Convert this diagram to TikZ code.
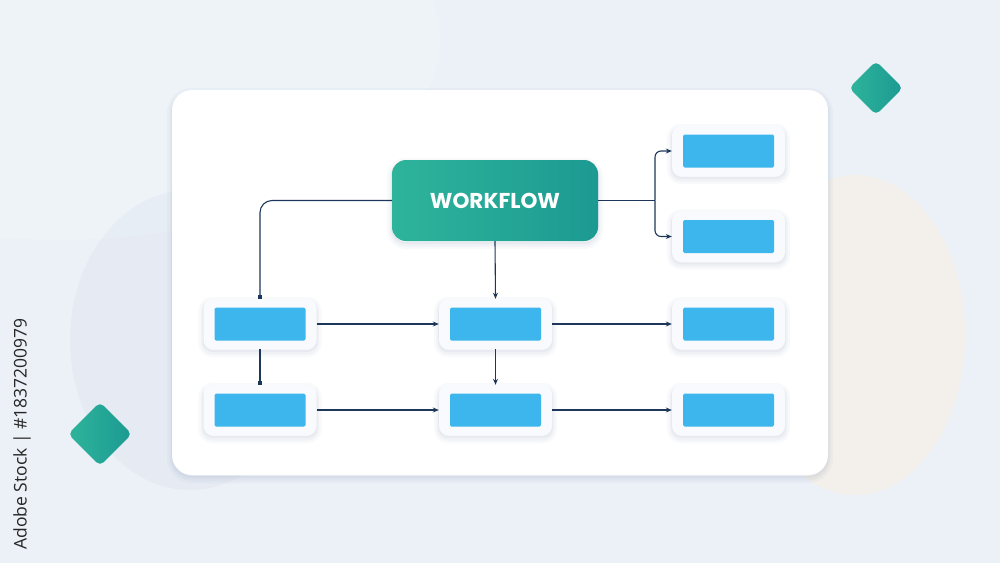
\documentclass[tikz,border=0pt]{standalone}
\usepackage{fontspec}
\newfontfamily\titlefont{Poppins}
\newfontfamily\markfont{Open Sans}
\usepackage{xcolor}
\definecolor{Col1}{RGB}{46,180,155}
\definecolor{Col2}{RGB}{28,154,146}
\definecolor{Col3}{RGB}{60,182,236}
\definecolor{Col4}{RGB}{28,55,90}
\definecolor{Col5}{RGB}{236,241,247}
\definecolor{Col6}{RGB}{248,250,253}
\definecolor{Col7}{RGB}{120,140,175}
\definecolor{Col8}{RGB}{252,238,220}
\usepackage{tikz}
\usetikzlibrary{arrows.meta}
\tikzstyle{Shade}=[preaction={draw=Col7,opacity=.05,line width=10pt,transform canvas={yshift=-3pt}},
preaction={draw=Col7,opacity=.06,line width=5pt,transform canvas={yshift=-3pt}},
preaction={draw=Col7,opacity=.07,line width=2pt,transform canvas={yshift=-2pt}}]
\tikzstyle{Card}=[rounded corners=20pt,fill=white,Shade]
\tikzstyle{Title}=[rectangle,rounded corners=14pt,left color=Col1,right color=Col2,
minimum width=206pt,minimum height=81pt,text=white,
font=\titlefont\bfseries\fontsize{21.5}{21.5}\selectfont,Shade]
\tikzstyle{Frame}=[rectangle,rounded corners=9pt,fill=Col6,
minimum width=113pt,minimum height=50pt,Shade]
\tikzstyle{Box}=[rectangle,rounded corners=1.5pt,fill=Col3,
minimum width=91pt,minimum height=33pt,inner sep=0pt]
\tikzstyle{Dia}=[rectangle,rotate=45,rounded corners=5pt,inner sep=0pt,
left color=Col1,right color=Col2]
\tikzstyle{Edge}=[draw=Col4,line width=1.1pt]
\tikzstyle{Arr}=[-{Stealth[length=6pt,width=5pt]}]
\tikzstyle{Sq}=[-{Square[length=3.5pt,width=3.5pt]}]

\begin{document}
\begin{tikzpicture}[x=1pt,y=-1pt]
    \useasboundingbox (0,0) rectangle (1000,563);
    % background
    \fill[Col5] (0,0) rectangle (1000,563);
    \fill[white,opacity=.15] (60,40) ellipse (380pt and 200pt);
    \fill[Col7,opacity=.05] (190,340) ellipse (120pt and 150pt);
    \fill[Col8,opacity=.45] (855,335) ellipse (110pt and 160pt);
    % card
    \path[Card] (172,90) rectangle (828,475);
    % decoration
    \node[Dia,minimum size=45pt](d1)at(100,434){};
    \node[Dia,minimum size=38pt](d2)at(876,88){};
    % nodes
    \node[Title](w)at(495,200.5){WORKFLOW};
    \node[Frame](1)at(260,324){};
    \node[Frame](2)at(495.5,324){};
    \node[Frame](3)at(728.5,324){};
    \node[Frame](4)at(260,410){};
    \node[Frame](5)at(495.5,410){};
    \node[Frame](6)at(728.5,410){};
    \node[Frame](7)at(728.5,151){};
    \node[Frame](8)at(728.5,236.5){};
    \node[Box]at(1){};
    \node[Box]at(2){};
    \node[Box]at(3){};
    \node[Box]at(4){};
    \node[Box]at(5){};
    \node[Box]at(6){};
    \node[Box]at(7){};
    \node[Box]at(8){};
    % edges
    \draw[Edge,Sq,rounded corners=12pt](w.west)-|(1.north);
    \draw[Edge,Arr](w.south)--(2.north);
    \coordinate(b)at(655,200.5);
    \draw[Edge](w.east)--(b);
    \draw[Edge,Arr,rounded corners=6pt](b)|-(7.west);
    \draw[Edge,Arr,rounded corners=6pt](b)|-(8.west);
    \draw[Edge,Arr](1.east)--(2.west);
    \draw[Edge,Arr](2.east)--(3.west);
    \draw[Edge,Sq](1.south)--(4.north);
    \draw[Edge,Arr](2.south)--(5.north);
    \draw[Edge,Arr](4.east)--(5.west);
    \draw[Edge,Arr](5.east)--(6.west);
    % side text
    \node[rotate=90,text=black!85,font=\markfont\fontsize{17.5}{17.5}\selectfont](s)at(22,434){Adobe Stock | \#1837200979};
\end{tikzpicture}
\end{document}
